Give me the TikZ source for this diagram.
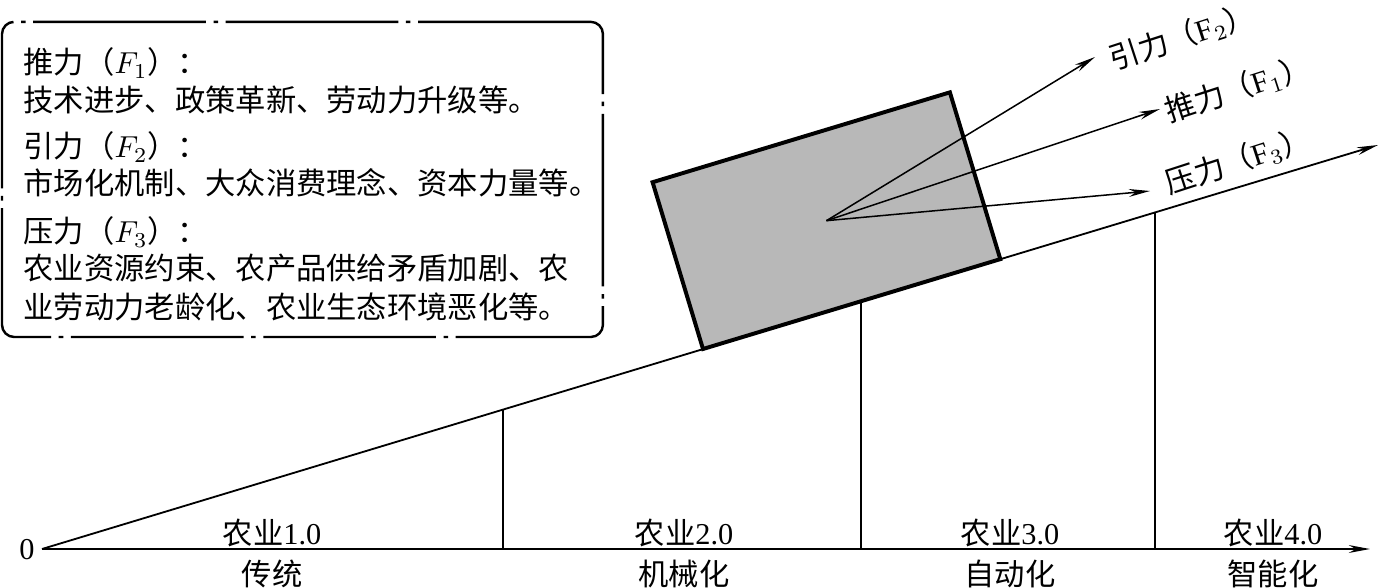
\documentclass[tikz,border=0pt]{standalone}
\usepackage{fontspec}
\setmainfont{Liberation Serif}
\newfontfamily\cjk{Noto Sans CJK SC}
\usetikzlibrary{arrows.meta,calc}

\definecolor{blockgray}{gray}{0.72}

\begin{document}
\begin{tikzpicture}[x=0.33pt, y=0.33pt, >={Stealth[length=7pt,width=2.6pt]},
        txt/.style={font=\fontsize{10}{12}\selectfont\cjk, inner sep=0pt, anchor=west},
        lbl/.style={font=\fontsize{10}{12}\selectfont, inner sep=0pt}]

        \useasboundingbox (0,0) rectangle (1387,587);

        % Define nodes (boxes)

        \node (legend) at (2,250) [draw, rounded corners=4pt, line width=0.8pt, dash pattern=on 57pt off 2.5pt on 1.5pt off 2.5pt, anchor=south west, minimum width=198.3pt, minimum height=104pt, inner sep=0pt, outer sep=0pt] {};

        \node (f1head)  at (23,524) [txt] {推力（$F_{1}$）：};
        \node (f1text)  at (23,487) [txt] {技术进步、政策革新、劳动力升级等。};
        \node (f2head)  at (23,440) [txt] {引力（$F_{2}$）：};
        \node (f2text)  at (23,404) [txt] {市场化机制、大众消费理念、资本力量等。};
        \node (f3head)  at (23,355) [txt] {压力（$F_{3}$）：};
        \node (f3text)  at (23,319) [txt] {农业资源约束、农产品供给矛盾加剧、农};
        \node (f3text2) at (23,280) [txt] {业劳动力老龄化、农业生态环境恶化等。};

        \node (zero) at (27,37) [lbl] {0};

        \coordinate (O) at (42,38);
        \coordinate (xend) at (1370,38);
        \coordinate (slopeend) at (1378,442);

        \coordinate (s1) at ($(O)!0.345!(slopeend)$);
        \coordinate (s2) at ($(O)!0.613!(slopeend)$);
        \coordinate (s3) at ($(O)!0.833!(slopeend)$);

        \node (block) at (703,238) [draw, fill=blockgray, line width=1.3pt, rotate=16.82, anchor=south west, minimum width=102.5pt, minimum height=57.5pt, inner sep=0pt, outer sep=0pt] {};

        \coordinate (f2tip) at (1095,530);
        \coordinate (f1tip) at (1160,478);
        \coordinate (f3tip) at (1150,396);

        \node (f2lbl) at (1182,550) [lbl, rotate=18] {{\cjk 引力（}F$_{2}${\cjk ）}};
        \node (f1lbl) at (1238,498) [lbl, rotate=18] {{\cjk 推力（}F$_{1}${\cjk ）}};
        \node (f3lbl) at (1238,426) [lbl, rotate=18] {{\cjk 压力（}F$_{3}${\cjk ）}};

        \node (p1)  at (272,54)  [lbl] {{\cjk 农业}1.0};
        \node (p1b) at (272,13)  [lbl] {\cjk 传统};
        \node (p2)  at (684,54)  [lbl] {{\cjk 农业}2.0};
        \node (p2b) at (684,13)  [lbl] {\cjk 机械化};
        \node (p3)  at (1010,54) [lbl] {{\cjk 农业}3.0};
        \node (p3b) at (1010,13) [lbl] {\cjk 自动化};
        \node (p4)  at (1273,54) [lbl] {{\cjk 农业}4.0};
        \node (p4b) at (1273,13) [lbl] {\cjk 智能化};

        % Draw arrows between nodes

        \draw[->, line width=0.65pt] (O) -- (xend);

        \draw[->, line width=0.6pt] (O) -- (slopeend);

        \draw[line width=0.45pt] (s1) -- (s1 |- O);
        \draw[line width=0.45pt] (s2) -- (s2 |- O);
        \draw[line width=0.45pt] (s3) -- (s3 |- O);

        \draw[->, line width=0.5pt] (block.center) -- (f2tip);
        \draw[->, line width=0.5pt] (block.center) -- (f1tip);
        \draw[->, line width=0.5pt] (block.center) -- (f3tip);

    \end{tikzpicture}
\end{document}
